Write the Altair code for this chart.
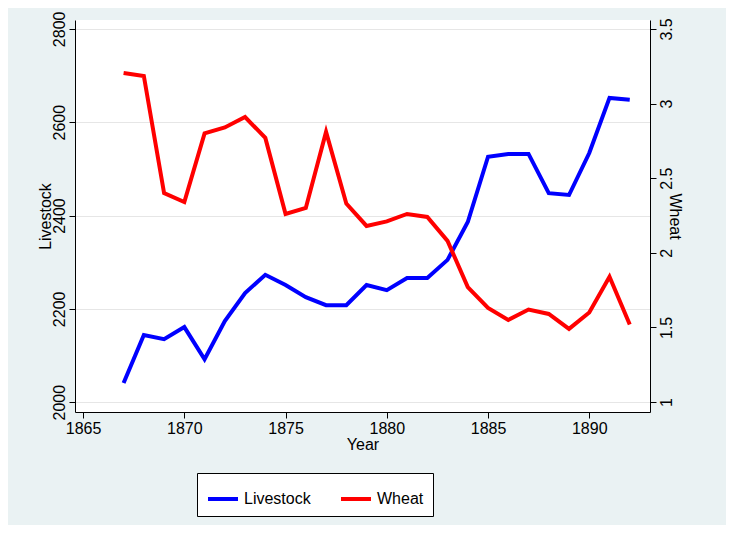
import altair as alt
import pandas as pd

years = list(range(1867, 1893))
livestock = [2041, 2144, 2135, 2161, 2092, 2174, 2234, 2273, 2251, 2225, 2208, 2208, 2251,
             2240, 2266, 2266, 2305, 2386, 2526, 2532, 2532, 2448, 2444, 2534, 2652, 2648]
wheat = [3.205, 3.185, 2.40, 2.34, 2.80, 2.84, 2.91, 2.77, 2.26, 2.30, 2.81, 2.33, 2.18,
         2.21, 2.26, 2.24, 2.08, 1.77, 1.63, 1.55, 1.62, 1.59, 1.49, 1.60, 1.84, 1.52]

df = pd.DataFrame({"Year": years, "Livestock": livestock, "Wheat": wheat})
font = "Liberation Sans"

x = alt.X("Year:Q", title="Year", scale=alt.Scale(domain=[1864.6, 1893.0], nice=False, zero=False),
          axis=alt.Axis(values=[1865, 1870, 1875, 1880, 1885, 1890], format="d", grid=False, titlePadding=0))
color = alt.Color("series:N", scale=alt.Scale(domain=["Livestock", "Wheat"], range=["#0000ff", "#ff0000"]),
                  legend=alt.Legend(title=None, orient="none", legendX=122, legendY=453, direction="horizontal",
                                    symbolType="stroke", symbolStrokeWidth=4, symbolSize=900, labelFontSize=16,
                                    strokeColor="black", fillColor="white", padding=9, columnPadding=22))

left = alt.Chart(df).transform_calculate(series="'Livestock'").mark_line(strokeWidth=4).encode(
    x=x,
    y=alt.Y("Livestock:Q", title="Livestock", scale=alt.Scale(domain=[1979, 2819], nice=False, zero=False),
            axis=alt.Axis(values=[2000, 2200, 2400, 2600, 2800], format="d", labelAngle=270, labelAlign="center",
                          labelBaseline="bottom", gridColor="#e6e6e6", titlePadding=-2)),
    color=color,
)
right = alt.Chart(df).transform_calculate(series="'Wheat'").mark_line(strokeWidth=4).encode(
    x=x,
    y=alt.Y("Wheat:Q", title="Wheat", scale=alt.Scale(domain=[0.933, 3.56], nice=False, zero=False),
            axis=alt.Axis(orient="right", values=[1, 1.5, 2, 2.5, 3, 3.5], format="~g", labelAngle=270,
                          labelAlign="center", labelBaseline="top", grid=False, titlePadding=-8)),
    color=color,
)

chart = alt.layer(left, right).resolve_scale(y="independent").properties(
    width=575, height=392,
    autosize=alt.AutoSizeParams(type="none"),
    padding={"left": 67, "top": 12, "right": 76, "bottom": 113},
    background="#eaf2f3",
).configure_view(fill="white", stroke=None).configure_axis(
    labelFont=font, titleFont=font, labelFontSize=16, titleFontSize=16, titleFontWeight="normal",
    labelColor="black", titleColor="black", domainColor="black", tickColor="black", tickSize=6,
).configure_legend(labelFont=font)

chart.save("out.html", embed_options={"renderer": "svg", "actions": False})
